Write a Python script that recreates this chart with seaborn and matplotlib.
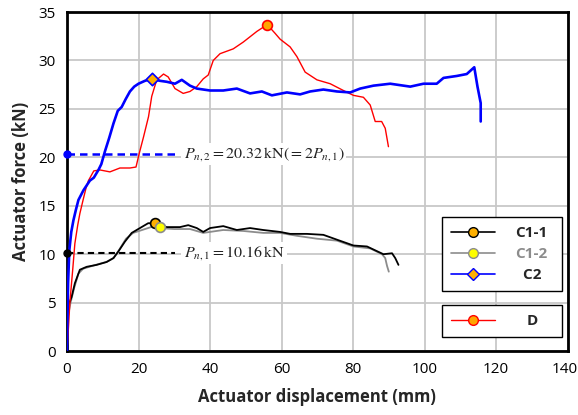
import matplotlib
matplotlib.use("Agg")
import matplotlib.pyplot as plt
from matplotlib.lines import Line2D
from matplotlib import font_manager
from matplotlib.transforms import ScaledTranslation
import seaborn as sns
import pandas as pd

# ---------------- data ----------------
c11_x = [0, 0.05, 0.5, 1.3, 2.2, 3.6, 5.5, 8.3, 11.1, 13, 14.4, 16.2, 18.1, 20.4, 22.7, 24.6,
         27.9, 31.6, 33.9, 36.3, 38.1, 40, 43.7, 47.5, 51.2, 54.9, 59.6, 62.4, 67.1, 71.7,
         75.5, 80.1, 83.9, 88.5, 90.9, 91.8, 92.7]
c11_y = [0, 3.9, 4.8, 5.6, 7.0, 8.4, 8.7, 8.9, 9.2, 9.6, 10.3, 11.3, 12.2, 12.7, 13.2, 13.2,
         12.8, 12.8, 13.0, 12.7, 12.3, 12.7, 12.9, 12.5, 12.7, 12.5, 12.3, 12.1, 12.1, 12.0,
         11.5, 10.9, 10.8, 10.0, 10.1, 9.6, 8.9]

c12_x = [0, 0.2, 1, 2, 3.2, 4.5, 8, 11, 13, 14.5, 16.5, 18.5, 21, 23.5, 26, 30, 34.4, 38.1,
         43.7, 49.3, 54.9, 59.6, 64.3, 69.9, 75.5, 80.1, 84.8, 88.1, 89, 89.5, 90]
c12_y = [0, 3.5, 5, 6.5, 8, 8.5, 8.9, 9.2, 9.6, 10.4, 11.6, 12.2, 12.5, 12.8, 12.7, 12.6, 12.6,
         12.2, 12.5, 12.4, 12.2, 12.2, 11.9, 11.6, 11.4, 10.8, 10.6, 10.0, 9.6, 8.8, 8.2]

c2_x = [0, 0.1, 0.3, 0.65, 1.2, 1.8, 2.5, 3.2, 4.6, 6.4, 7.5, 8.8, 9.6, 10.6, 11.8, 13, 14.2,
        15.3, 16.4, 17.6, 18.8, 20, 21.8, 23.7, 26, 27.9, 30.2, 32.1, 34.4, 36.3, 40, 43.7,
        47.5, 51.2, 54.5, 57.3, 61.5, 65.2, 68, 71.7, 75.5, 79.2, 82, 85.7, 90.4, 96, 99.7,
        103.4, 105.3, 109, 111.8, 113.9, 114.8, 115.7, 115.7]
c2_y = [0, 3, 7, 10.4, 12.3, 13.5, 14.6, 15.6, 16.6, 17.6, 17.9, 18.7, 19.3, 20.6, 22.0, 23.5,
        24.8, 25.2, 26.0, 26.8, 27.3, 27.6, 27.9, 28.1, 27.9, 27.8, 27.6, 28.0, 27.4, 27.1,
        26.9, 26.9, 27.1, 26.6, 26.8, 26.4, 26.7, 26.5, 26.8, 27.0, 26.8, 26.7, 27.1, 27.4,
        27.6, 27.3, 27.6, 27.6, 28.2, 28.4, 28.6, 29.3, 27.3, 25.6, 23.7]

d_x = [0, 0.5, 0.8, 1.6, 2.2, 3.0, 3.6, 4.5, 5.3, 6.0, 6.9, 7.5, 9.2, 12, 14.8, 17.6, 19.3,
       20.2, 21.4, 22.8, 23.7, 25.1, 27, 28.3, 30.2, 32.5, 34.4, 36.3, 38.1, 39.5, 40.9, 42.8,
       46.5, 49.3, 53.1, 56, 58.2, 59.6, 62.4, 64.3, 66.6, 69.9, 73.6, 77.3, 80.1, 82.9, 84.8,
       86.2, 88, 89, 89.9]
d_y = [0, 3, 5, 8.4, 11.1, 13, 14.2, 15.6, 16.8, 17.6, 18.2, 18.6, 18.7, 18.5, 18.9, 18.9,
       19.0, 20.4, 22.1, 24.2, 26.3, 28.0, 28.6, 28.3, 27.1, 26.6, 26.8, 27.3, 28.1, 28.5,
       30.0, 30.7, 31.2, 31.9, 33.0, 33.7, 32.8, 32.2, 31.4, 30.4, 28.8, 28.0, 27.6, 26.9,
       26.4, 26.2, 25.4, 23.7, 23.7, 23.0, 21.1]

peak_x = [24.6, 26.0, 23.7, 56.0]
peak_y = [13.2, 12.8, 28.1, 33.7]

series_names = ["C1-1", "C1-2", "C2", "D"]
pn1 = 10.16
pn2 = 20.32
x_ticks = [0, 20, 40, 60, 80, 100, 120, 140]
y_ticks = [0, 5, 10, 15, 20, 25, 30, 35]

# ---------------- style ----------------
sns.set_style("white")
chosen = "DejaVu Sans"
for fam in ["Open Sans", "Noto Sans", "Lato", "Roboto"]:
    try:
        f = font_manager.findfont(font_manager.FontProperties(family=fam, weight="bold"),
                                  fallback_to_default=False)
        if "bold" in f.lower():
            chosen = fam
            break
    except Exception:
        pass
plt.rcParams["font.family"] = [chosen, "DejaVu Sans"]
plt.rcParams["mathtext.fontset"] = "stix"

fig = plt.figure(figsize=(5.78, 4.15), dpi=100)
ax = fig.add_axes([0.1159, 0.154, 0.8661, 0.817])

colors = {"C1-1": "black", "C1-2": "#8C8C8C", "C2": "#0000FF", "D": "#FF0000"}
widths = {"C1-1": 1.3, "C1-2": 1.3, "C2": 1.9, "D": 1.0}
data = {"C1-1": (c11_x, c11_y), "C1-2": (c12_x, c12_y), "C2": (c2_x, c2_y), "D": (d_x, d_y)}

for name in ["C1-2", "C1-1", "D", "C2"]:
    xs, ys = data[name]
    df = pd.DataFrame({"x": xs, "y": ys})
    sns.lineplot(data=df, x="x", y="y", sort=False, estimator=None, ax=ax,
                 color=colors[name], lw=widths[name], zorder=3)

# reference lines
sns.lineplot(x=[0, 30.3], y=[pn2, pn2], ax=ax, color="#0000FF", lw=1.8,
             linestyle=(0, (3, 2)), zorder=4)
sns.lineplot(x=[0, 30.3], y=[pn1, pn1], ax=ax, color="black", lw=1.5,
             linestyle=(0, (3, 2)), zorder=4)
ax.plot([0], [pn2], "o", color="#0000FF", ms=5, clip_on=False, zorder=6)
ax.plot([0], [pn1], "o", color="black", ms=5, clip_on=False, zorder=6)

# peak markers
mk = [("o", "#FFB000", "black"), ("o", "#FFFF00", "#8C8C8C"),
      ("D", "#FFB000", "#0000FF"), ("o", "#FFA500", "#FF0000")]
for i, (m, fc, ec) in enumerate(mk):
    sns.scatterplot(x=[peak_x[i]], y=[peak_y[i]], ax=ax, marker=m, s=50 if m == "o" else 40,
                    color=fc, edgecolor=ec, linewidth=1.2, zorder=7)

bbox = dict(facecolor="white", edgecolor="none", pad=1.5)
ax.text(32.6, pn2, r"$P_{n,2}=20.32\,\mathrm{kN}\left(=2P_{n,1}\right)$", fontsize=11.5,
        va="center", ha="left", color="#222222", bbox=bbox, zorder=5)
ax.text(32.6, pn1, r"$P_{n,1}=10.16\,\mathrm{kN}$", fontsize=11.5,
        va="center", ha="left", color="#222222", bbox=bbox, zorder=5)

# axes
ax.set_xlim(0, 140)
ax.set_ylim(0, 35)
ax.set_xticks(x_ticks)
ax.set_yticks(y_ticks)
ax.grid(True, color="#C8C8C8", lw=1.3)
ax.set_axisbelow(True)
for s in ax.spines.values():
    s.set_color("black")
    s.set_linewidth(2)
ax.tick_params(axis="both", labelsize=11, length=0, pad=8, colors="black")
last = ax.get_xticklabels()[-1]
last.set_transform(last.get_transform() + ScaledTranslation(-3 / 100, 0, fig.dpi_scale_trans))
ax.set_xlabel("Actuator displacement (mm)", fontsize=12, fontweight="bold", labelpad=8)
ax.set_ylabel("Actuator force (kN)", fontsize=12, fontweight="bold", labelpad=6)

# legends
lkw = dict(handlelength=2.9, handletextpad=1.3, frameon=True, fancybox=False,
           edgecolor="black", framealpha=1, borderpad=0.6, borderaxespad=0,
           mode="expand", loc="upper left",
           prop={"weight": "bold", "size": 11})
h1 = [Line2D([], [], color="black", lw=1.2, marker="o", mfc="#FFB000", mec="black", ms=7),
      Line2D([], [], color="#8C8C8C", lw=1.2, marker="o", mfc="#FFFF00", mec="#8C8C8C", ms=7),
      Line2D([], [], color="#0000FF", lw=1.2, marker="D", mfc="#FFB000", mec="#0000FF", ms=6)]
leg1 = ax.legend(h1, [series_names[0], series_names[1], "  " + series_names[2]],
                 bbox_to_anchor=(0.749, 0.395, 0.239, 0.0), labelspacing=0.45, **lkw)
leg1.get_frame().set_linewidth(1.0)
leg1.get_texts()[1].set_color("#8C8C8C")
ax.add_artist(leg1)

h2 = [Line2D([], [], color="#FF0000", lw=1.0, marker="o", mfc="#FFA500", mec="#FF0000", ms=7)]
leg2 = ax.legend(h2, ["   " + series_names[3]],
                 bbox_to_anchor=(0.749, 0.136, 0.239, 0.0), **lkw)
leg2.get_frame().set_linewidth(1.0)

fig.savefig("out.png", dpi=100)
